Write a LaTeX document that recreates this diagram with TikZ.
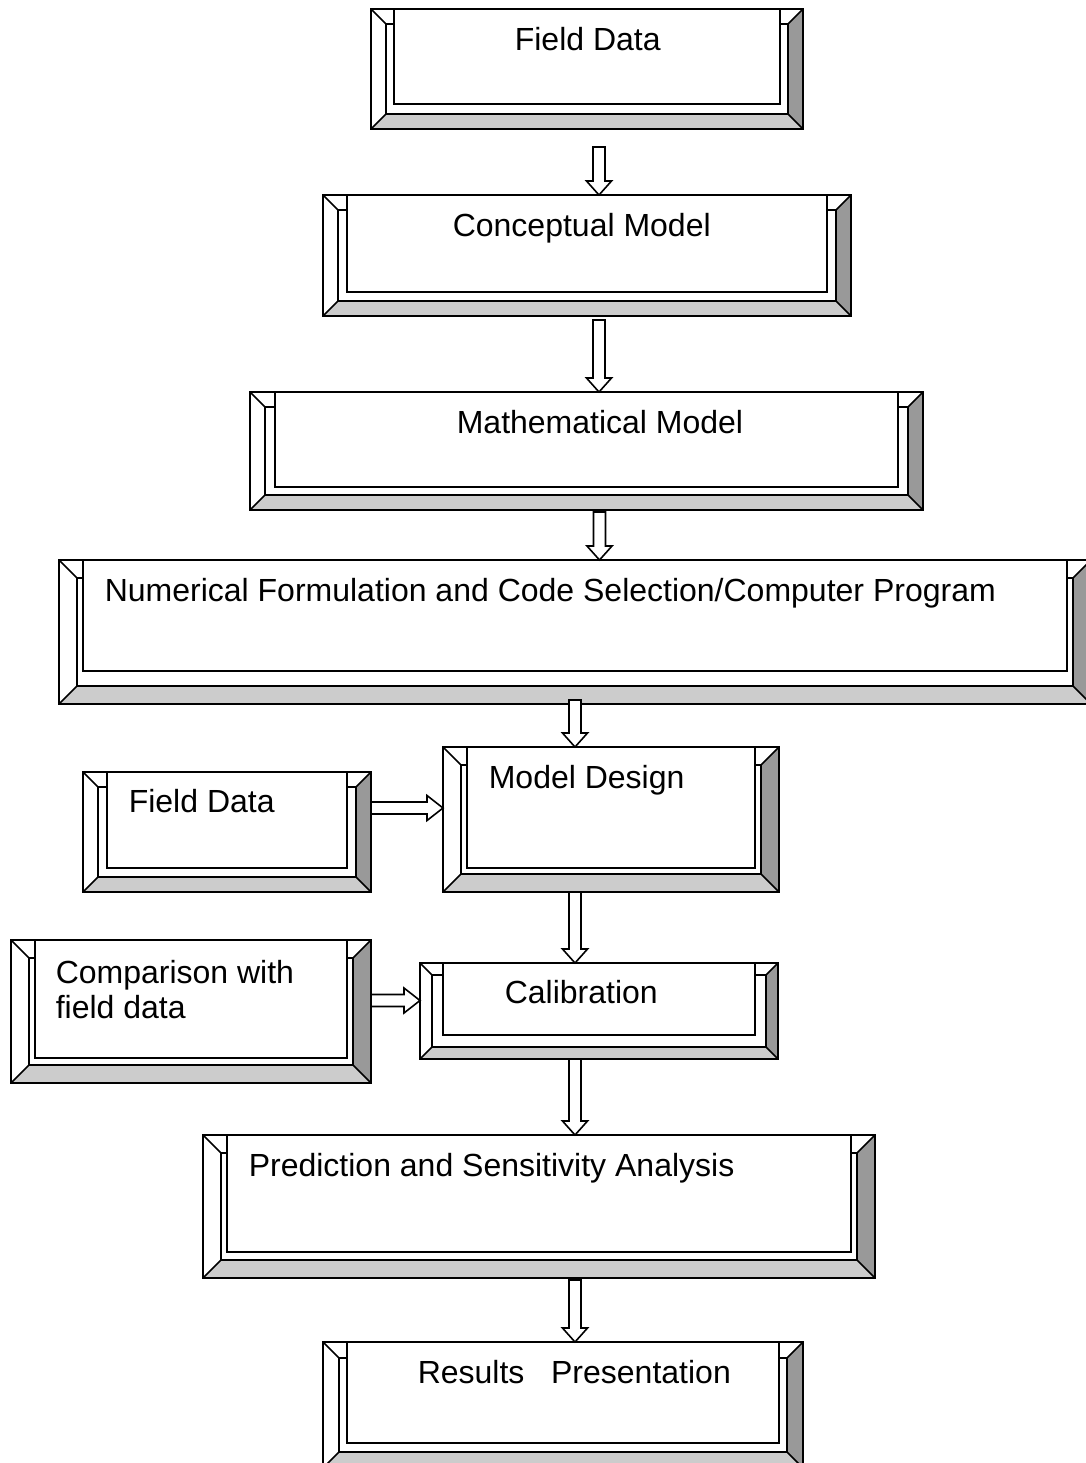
\documentclass[tikz,border=0pt]{standalone}
\usepackage{fontspec}
\setmainfont{Liberation Sans}
\usetikzlibrary{calc,fit}

\definecolor{bevdark}{gray}{0.6}
\definecolor{bevlight}{gray}{0.8}

% bevel round a named frame node: #1 node, #2 bevel depth, #3 side gap, #4 bottom gap
\newcommand\bevelframe[4]{%
  \fill[white] (#1.north west) rectangle (#1.south east);
  \fill[bevdark] (#1.north east) -- (#1.south east) -- ($(#1.south east)+(-#2,-#2)$) -- ($(#1.north east)+(-#2,#2)$) -- cycle;
  \fill[bevlight] (#1.south west) -- (#1.south east) -- ($(#1.south east)+(-#2,-#2)$) -- ($(#1.south west)+(#2,-#2)$) -- cycle;
  \draw (#1.north west) rectangle (#1.south east);
  \draw ($(#1.north west)+(#2,#2)$) rectangle ($(#1.south east)+(-#2,-#2)$);
  \draw (#1.north west) -- ++(#2,#2) (#1.north east) -- ++(-#2,#2)
        (#1.south east) -- ++(-#2,-#2) (#1.south west) -- ++(#2,-#2);
  \filldraw[fill=white] ($(#1.north west)+(#2+#3,0)$) rectangle ($(#1.south east)+(-#2-#3,-#2-#4)$);
}

\begin{document}
\begin{tikzpicture}[
    x=0.5pt, y=-0.5pt, line width=0.8pt,
    frame/.style={inner sep=0pt, outer sep=0pt},
    lbl/.style={anchor=base west, inner sep=0pt, align=left, font=\fontsize{16}{17.5}\selectfont},
    downarrow/.style={draw, fill=white, to path={let \p1=(\tikztostart), \p2=(\tikztotarget) in
      (\x1-3pt,\y1) -- (\x1-3pt,\y2+7pt) -- (\x1-6.25pt,\y2+7pt) -- (\x1,\y2)
      -- (\x1+6.25pt,\y2+7pt) -- (\x1+3pt,\y2+7pt) -- (\x1+3pt,\y1) -- cycle}},
    rightarrow/.style={draw, fill=white, to path={let \p1=(\tikztostart), \p2=(\tikztotarget) in
      (\x1,\y1+3pt) -- (\x2-8pt,\y1+3pt) -- (\x2-8pt,\y1+6.25pt) -- (\x2,\y1)
      -- (\x2-8pt,\y1-6.25pt) -- (\x2-8pt,\y1-3pt) -- (\x1,\y1-3pt) -- cycle}}
  ]
    \useasboundingbox (0,0) rectangle (1086,1463);
    \clip (0,0) rectangle (1086,1463);

    % Main column
    \node[frame, fit={(371,9) (803,129)}] (fieldTop) {};
    \node[frame, fit={(323,195) (851,316)}] (concept) {};
    \node[frame, fit={(250,392) (923,510)}] (math) {};
    \node[frame, fit={(59,560) (1091,704)}] (numeric) {};
    \node[frame, fit={(443,747) (779,892)}] (design) {};
    \node[frame, fit={(420,963) (778,1059)}] (calib) {};
    \node[frame, fit={(203,1135) (875,1278)}] (predict) {};
    \node[frame, fit={(323,1342) (803,1468)}] (results) {};

    % Side inputs
    \node[frame, fit={(83,772) (371,892)}] (fieldSide) {};
    \node[frame, fit={(11,940) (371,1083)}] (compare) {};

    \bevelframe{fieldTop}{15}{8}{10}
    \bevelframe{concept}{15}{9}{9}
    \bevelframe{math}{15}{10}{8}
    \bevelframe{numeric}{18}{6}{15}
    \bevelframe{design}{18}{6}{6}
    \bevelframe{calib}{12}{11}{12}
    \bevelframe{predict}{18}{6}{8}
    \bevelframe{results}{16}{8}{9}
    \bevelframe{fieldSide}{15}{9}{9}
    \bevelframe{compare}{18}{6}{7}

    % Labels
    \node[lbl] (fieldTopLbl) at (514,50) {Field Data};
    \node[lbl] (conceptLbl) at (452,236) {Conceptual Model};
    \node[lbl] (mathLbl) at (456,433) {Mathematical Model};
    \node[lbl] (numericLbl) at (104,601) {Numerical Formulation and Code Selection/Computer Program};
    \node[lbl] (designLbl) at (488,788) {Model Design};
    \node[lbl] (calibLbl) at (504,1003) {Calibration};
    \node[lbl] (predictLbl) at (248,1176) {Prediction and Sensitivity Analysis};
    \node[lbl] (resultsLbl) at (417,1383) {Results~~~Presentation};
    \node[lbl] (fieldSideLbl) at (128,812) {Field Data};
    \node[lbl] (compareLbl) at (55,1018) {Comparison with\\field data};

    % Flow
    \draw[downarrow] ($(fieldTop.south)+(12,18)$) to (concept.north);
    \draw[downarrow] ($(concept.south)+(12,4)$) to (math.north);
    \draw[downarrow] ($(math.south)+(13,2)$) to (numeric.north);
    \draw[downarrow] ($(numeric.south)+(0,-4)$) to (design.north);
    \draw[rightarrow] ($(fieldSide.east)+(0,-24)$) to (design.west);
    \draw[downarrow] ($(design.south)+(-36,0)$) to (calib.north);
    \draw[rightarrow] ($(compare.east)+(0,-11)$) to (calib.west);
    \draw[downarrow] ($(calib.south)+(-24,0)$) to (predict.north);
    \draw[downarrow] ($(predict.south)+(36,2)$) to (results.north);
\end{tikzpicture}
\end{document}
